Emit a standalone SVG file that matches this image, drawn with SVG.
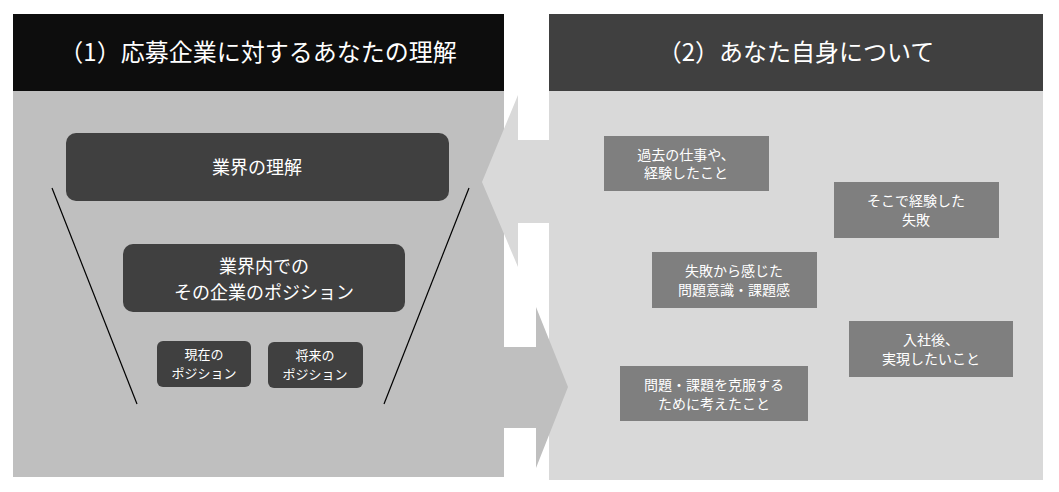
<svg xmlns="http://www.w3.org/2000/svg" width="1059" height="492" viewBox="0 0 1059 492">
<style>
text{font-family:"Noto Sans CJK JP","Noto Sans",sans-serif;fill:#fff;text-anchor:middle}
.h{font-size:24px}
.b{font-size:18px}
.s{font-size:13px}
.g{font-size:14px}
.dk{fill:#404040}
.gb{fill:#7f7f7f}
</style>
<rect width="1059" height="492" fill="#fff"/>
<rect x="13" y="91" width="491" height="386" fill="#bfbfbf"/>
<rect x="549" y="91" width="494" height="389" fill="#d9d9d9"/>
<g id="connectors">
<polygon points="549,140 518,140 518,95 482,182 518,267 518,223 549,223" fill="#d9d9d9"/>
<polygon points="504,347 536,347 536,307 568,387 536,468 536,428 504,428" fill="#bfbfbf"/>
<line x1="52" y1="188" x2="137" y2="404" stroke="#000" stroke-width="1.2"/>
<line x1="469" y1="188" x2="384" y2="404" stroke="#000" stroke-width="1.2"/>
</g>
<g id="header1"><rect x="13" y="14" width="491" height="77" fill="#0d0d0d"/><text class="h" x="258" y="61">（1）応募企業に対するあなたの理解</text></g>
<g id="header2"><rect x="549" y="14" width="494" height="77" fill="#404040"/><text class="h" x="796" y="61">（2）あなた自身について</text></g>
<g id="n1"><rect class="dk" x="66" y="133" width="383" height="68" rx="10"/><text class="b" x="257" y="174">業界の理解</text></g>
<g id="n2"><rect class="dk" x="123" y="244" width="282" height="68" rx="10"/><text class="b" x="264" y="273">業界内での</text><text class="b" x="264" y="299">その企業のポジション</text></g>
<g id="n3"><rect class="dk" x="157" y="341" width="94" height="46" rx="6"/><text class="s" x="204" y="359">現在の</text><text class="s" x="204" y="378">ポジション</text></g>
<g id="n4"><rect class="dk" x="268" y="342" width="95" height="46" rx="6"/><text class="s" x="315" y="360">将来の</text><text class="s" x="315" y="379">ポジション</text></g>
<g id="r1"><rect class="gb" x="604" y="136" width="165" height="55"/><text class="g" x="686" y="160">過去の仕事や、</text><text class="g" x="686" y="178">経験したこと</text></g>
<g id="r2"><rect class="gb" x="834" y="182" width="165" height="56"/><text class="g" x="916" y="206">そこで経験した</text><text class="g" x="916" y="225">失敗</text></g>
<g id="r3"><rect class="gb" x="652" y="252" width="165" height="56"/><text class="g" x="734" y="276">失敗から感じた</text><text class="g" x="734" y="295">問題意識・課題感</text></g>
<g id="r4"><rect class="gb" x="849" y="321" width="164" height="56"/><text class="g" x="931" y="345">入社後、</text><text class="g" x="931" y="364">実現したいこと</text></g>
<g id="r5"><rect class="gb" x="620" y="366" width="188" height="55"/><text class="g" x="714" y="390">問題・課題を克服する</text><text class="g" x="714" y="409">ために考えたこと</text></g>
</svg>
